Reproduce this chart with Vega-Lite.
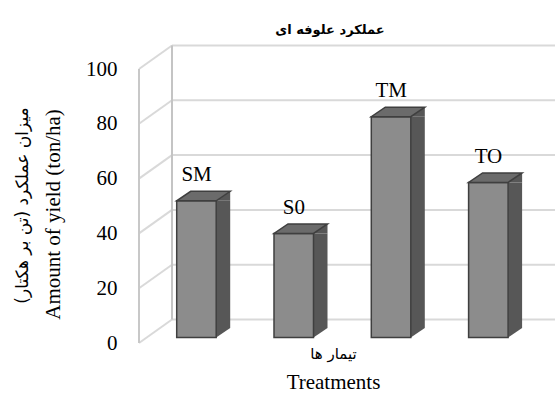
{
  "$schema": "https://vega.github.io/schema/vega-lite/v6.json",
  "width": 416,
  "height": 298,
  "autosize": {"type": "none"},
  "padding": {"left": 139, "top": 45, "right": 0, "bottom": 51},
  "background": "white",
  "config": {"view": {"stroke": null}, "font": "Liberation Serif"},
  "title": {
    "text": "عملکرد علوفه ای",
    "font": "DejaVu Sans",
    "fontSize": 13,
    "fontWeight": "bold",
    "color": "#000000",
    "anchor": "middle",
    "dx": -17,
    "offset": 8
  },
  "datasets": {
    "bars": [
      {"treatment": "SM", "yield": 49.9},
      {"treatment": "S0", "yield": 38},
      {"treatment": "TM", "yield": 80.6},
      {"treatment": "TO", "yield": 56.6}
    ],
    "grid": [{"v": 0}, {"v": 20}, {"v": 40}, {"v": 60}, {"v": 80}, {"v": 100}],
    "frame": [{"edge": "wall"}]
  },
  "layer": [
    {
      "layer": [
        {
          "data": {"name": "grid"},
          "mark": {"type": "rule", "color": "#d9d9d9", "strokeWidth": 2, "xOffset": 33, "yOffset": -23.5},
          "encoding": {
            "x": {"datum": 0, "type": "quantitative", "scale": {"domain": [0, 1]},
              "axis": {"orient": "bottom", "labels": false, "ticks": false, "domain": false, "grid": false,
                "title": "Treatments", "titleFont": "Liberation Serif", "titleFontSize": 21, "titleFontWeight": "normal",
                "titleColor": "#000000", "titleX": 194, "titleY": 39, "titleAlign": "center", "titleBaseline": "middle"}},
            "x2": {"datum": 1},
            "y": {"field": "v", "type": "quantitative", "scale": {"domain": [0, 108.76], "nice": false},
              "axis": {"orient": "left", "labels": false, "ticks": false, "domain": false, "grid": false,
                "title": "میزان عملکرد (تن بر هکتار)‏", "titleFont": "DejaVu Sans", "titleFontSize": 17,
                "titleFontWeight": "normal", "titleColor": "#000000", "titleX": -112, "titleY": 160,
                "titleAngle": -90, "titleAlign": "center", "titleBaseline": "alphabetic"}}
          }
        },
        {
          "data": {"name": "grid"},
          "mark": {"type": "rule", "color": "#d9d9d9", "strokeWidth": 2, "x2Offset": 33, "y2Offset": -23.5},
          "encoding": {
            "x": {"datum": 0, "type": "quantitative"},
            "x2": {"datum": 0},
            "y": {"field": "v", "type": "quantitative"},
            "y2": {"field": "v"}
          }
        },
        {
          "data": {"name": "frame"},
          "mark": {"type": "rule", "color": "#c4c4c4", "strokeWidth": 2, "xOffset": 33, "yOffset": -23.5, "y2Offset": -23.5},
          "encoding": {
            "x": {"datum": 0, "type": "quantitative"},
            "y": {"datum": 0, "type": "quantitative"},
            "y2": {"datum": 100}
          }
        },
        {
          "data": {"name": "frame"},
          "mark": {"type": "rule", "color": "#c8c8c8", "strokeWidth": 2},
          "encoding": {
            "x": {"datum": 0, "type": "quantitative"},
            "y": {"datum": 0, "type": "quantitative"},
            "y2": {"datum": 100}
          }
        }
      ]
    },
    {
      "data": {"name": "bars"},
      "encoding": {
        "x": {"field": "treatment", "type": "nominal", "sort": null,
          "scale": {"domain": ["SM", "S0", "TM", "TO"], "range": [1, 390], "paddingInner": 0.594, "paddingOuter": 0.296},
          "axis": {"orient": "bottom", "labels": false, "ticks": false, "domain": false, "grid": false,
            "title": "تیمار ها", "titleFont": "DejaVu Sans", "titleFontSize": 15, "titleFontWeight": "normal",
            "titleColor": "#000000", "titleX": 194, "titleY": 10, "titleAlign": "center", "titleBaseline": "middle"}},
        "y": {"field": "yield", "type": "quantitative", "scale": {"domain": [0, 108.76], "nice": false},
          "axis": {"orient": "left", "values": [0, 20, 40, 60, 80, 100], "labelFont": "Liberation Serif",
            "labelFontSize": 21, "labelColor": "#000000", "labelPadding": 22, "ticks": false, "domain": false, "grid": false,
            "title": "Amount of yield (ton/ha)", "titleFont": "Liberation Serif", "titleFontSize": 21,
            "titleFontWeight": "normal", "titleColor": "#000000", "titleX": -80, "titleY": 169,
            "titleAngle": -90, "titleAlign": "center", "titleBaseline": "alphabetic"}}
      },
      "layer": [
        {
          "mark": {"type": "point", "shape": "M19.75,-9.5L19.75,0L33.75,-9.5Z", "size": 4, "filled": true,
            "fill": "#575757", "strokeWidth": 0, "opacity": 1, "xOffset": 7.9, "yOffset": -5.5},
          "encoding": {"y": {"datum": 0, "type": "quantitative"}}
        },
        {
          "mark": {"type": "bar", "fill": "#575757", "width": 14, "xOffset": 34.65, "yOffset": -5.5, "y2Offset": -15},
          "encoding": {"y2": {"datum": 0}}
        },
        {
          "mark": {"type": "point", "shape": "M19.75,0L33.75,-9.5L33.75,0Z", "size": 4, "filled": true,
            "fill": "#575757", "strokeWidth": 0, "opacity": 1, "xOffset": 7.9, "yOffset": -5.5}
        },
        {
          "mark": {"type": "bar", "fill": "#8c8c8c", "stroke": "#3f3f3f", "strokeWidth": 1.5,
            "xOffset": 7.9, "yOffset": -5.5, "y2Offset": -5.5},
          "encoding": {"y2": {"datum": 0}}
        },
        {
          "mark": {"type": "point", "shape": "M-19.75,0L19.75,0L33.75,-9.5L-5.75,-9.5Z", "size": 4, "filled": true,
            "fill": "#6b6b6b", "stroke": "#3f3f3f", "strokeWidth": 1.5, "opacity": 1, "xOffset": 7.9, "yOffset": -5.5}
        },
        {
          "mark": {"type": "text", "font": "Liberation Serif", "fontSize": 21, "color": "#000000",
            "xOffset": 8, "yOffset": -25, "baseline": "alphabetic", "align": "center"},
          "encoding": {"text": {"field": "treatment"}}
        }
      ]
    }
  ],
  "resolve": {"scale": {"x": "independent", "y": "independent"}}
}
